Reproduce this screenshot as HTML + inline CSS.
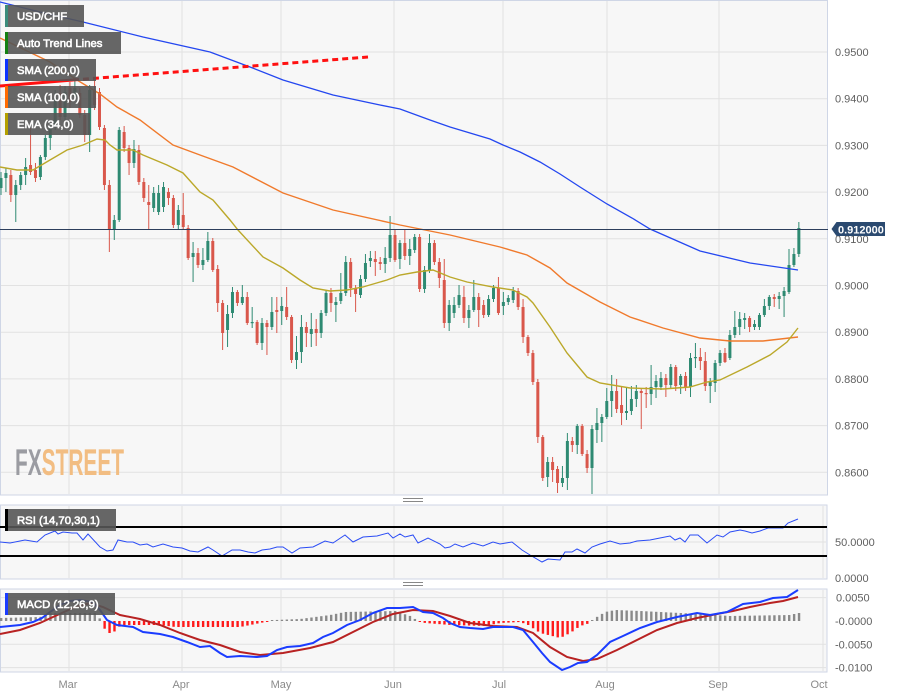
<!DOCTYPE html>
<html><head><meta charset="utf-8"><style>
html,body{margin:0;padding:0;background:#fff;}
svg{display:block;font-family:"Liberation Sans",Arial,sans-serif;}
</style></head><body>
<svg id="s" width="898" height="697" viewBox="0 0 898 697" xmlns="http://www.w3.org/2000/svg">
<defs>
<clipPath id="cm"><rect x="0" y="0" width="828" height="495"/></clipPath>
<clipPath id="cr"><rect x="0" y="505" width="827" height="74"/></clipPath>
<clipPath id="cd"><rect x="0" y="589" width="827" height="83"/></clipPath>
</defs>
<rect width="898" height="697" fill="#fff"/>
<!-- main panel -->
<rect x="0.5" y="0.5" width="827" height="494.5" fill="#f7f7f7" stroke="#cfd6e6"/>
<g stroke="#e2e2e2" stroke-width="1">
<line x1="1" x2="827" y1="52" y2="52"/><line x1="1" x2="827" y1="98.7" y2="98.7"/><line x1="1" x2="827" y1="145.4" y2="145.4"/><line x1="1" x2="827" y1="192.1" y2="192.1"/><line x1="1" x2="827" y1="238.8" y2="238.8"/><line x1="1" x2="827" y1="285.5" y2="285.5"/><line x1="1" x2="827" y1="332.2" y2="332.2"/><line x1="1" x2="827" y1="378.9" y2="378.9"/><line x1="1" x2="827" y1="425.6" y2="425.6"/><line x1="1" x2="827" y1="472.3" y2="472.3"/>
<line x1="69" x2="69" y1="1" y2="494"/><line x1="182" x2="182" y1="1" y2="494"/><line x1="281" x2="281" y1="1" y2="494"/><line x1="394" x2="394" y1="1" y2="494"/><line x1="503" x2="503" y1="1" y2="494"/><line x1="607" x2="607" y1="1" y2="494"/><line x1="719" x2="719" y1="1" y2="494"/>
</g>
<!-- FXSTREET logo -->
<text x="15" y="475" font-size="37" font-weight="bold" textLength="109" lengthAdjust="spacingAndGlyphs" font-family="'Liberation Sans Narrow','Liberation Sans',sans-serif"><tspan fill="#9b9ca2">FX</tspan><tspan fill="#f2bd82">STREET</tspan></text>
<g clip-path="url(#cm)">
<g id="candles"></g>
<polyline fill="none" stroke="#2447f0" stroke-width="1.3" points="0,2 40,12 83,22 143,37 210,52 250,67 283,80 333,95 380,105 400,109 430,120 450,127 490,139 503,145 520,152 540,162 560,174 580,187 607,204 632,218 650,229 700,251 750,263 798,270"/>
<polyline fill="none" stroke="#f07a2c" stroke-width="1.4" points="0,38 50,62 77,80 100,94 117,107 140,120 173,145 200,155 233,167 283,193 333,210 400,225 450,235 500,247 527,255 550,268 567,283 600,302 630,317 663,328 700,338 730,341 763,341 798,337"/>
<polyline fill="none" stroke="#bba82a" stroke-width="1.4" points="0,167 17,170 33,170 50,160 67,150 83,145 97,139 105,140 110,145 117,150 133,150 143,155 167,165 183,173 200,192 213,200 230,220 238,230 263,257 283,268 300,280 313,288 330,291 347,290 363,287 387,280 400,275 417,272 433,270 450,277 467,282 493,287 513,290 527,297 533,303 550,327 567,353 587,377 600,383 630,388 663,389 690,387 707,382 720,380 747,367 770,355 787,342 798,328"/>
<line x1="0" y1="86" x2="73" y2="80" stroke="#ff1010" stroke-width="3"/>
<line x1="73" y1="80" x2="368" y2="57" stroke="#ff1010" stroke-width="3" stroke-dasharray="6 4"/>
<line x1="0" x2="828" y1="229.5" y2="229.5" stroke="#2c3e5c" stroke-width="1"/>
</g>
<!-- legend -->
<g font-size="11.3" fill="#fff" stroke="#fff" stroke-width="0.6">
<rect x="5" y="5" width="79" height="22" fill="#555" opacity="0.9" stroke="none"/><rect x="5" y="5" width="3" height="22" fill="#3b8c7c" stroke="none"/><text x="17" y="20">USD/CHF</text>
<rect x="5" y="32" width="116" height="22" fill="#555" opacity="0.9" stroke="none"/><rect x="5" y="32" width="3" height="22" fill="#138013" stroke="none"/><text x="17" y="47">Auto Trend Lines</text>
<rect x="5" y="59" width="91" height="22" fill="#555" opacity="0.9" stroke="none"/><rect x="5" y="59" width="3" height="22" fill="#0a32ff" stroke="none"/><text x="17" y="74">SMA (200,0)</text>
<rect x="5" y="86" width="91" height="22" fill="#555" opacity="0.9" stroke="none"/><rect x="5" y="86" width="3" height="22" fill="#ff6a00" stroke="none"/><text x="17" y="101">SMA (100,0)</text>
<rect x="5" y="113" width="85" height="22" fill="#555" opacity="0.9" stroke="none"/><rect x="5" y="113" width="3" height="22" fill="#b4a000" stroke="none"/><text x="17" y="128">EMA (34,0)</text>
</g>
<!-- right axis -->
<g font-size="11" fill="#606060">
<text x="835" y="56">0.9500</text><text x="835" y="102.7">0.9400</text><text x="835" y="149.4">0.9300</text><text x="835" y="196.1">0.9200</text><text x="835" y="242.8">0.9100</text><text x="835" y="289.5">0.9000</text><text x="835" y="336.2">0.8900</text><text x="835" y="382.9">0.8800</text><text x="835" y="429.6">0.8700</text><text x="835" y="476.3">0.8600</text>
</g>
<polygon points="831.5,229 836.5,222 885,222 885,236 836.5,236" fill="#2b4a70"/>
<text x="838" y="233.5" font-size="11" font-weight="bold" fill="#fff">0.912000</text>
<!-- handles -->
<g stroke="#888" stroke-width="1"><line x1="403" x2="423" y1="498.5" y2="498.5"/><line x1="403" x2="423" y1="501.5" y2="501.5"/><line x1="403" x2="423" y1="582.5" y2="582.5"/><line x1="403" x2="423" y1="585.5" y2="585.5"/></g>
<!-- RSI panel -->
<rect x="0.5" y="505" width="826.5" height="74" fill="#f7f7f7" stroke="#cfd6e6"/>
<g stroke="#e2e2e2"><line x1="1" x2="826" y1="542" y2="542"/><line x1="69" x2="69" y1="506" y2="578"/><line x1="182" x2="182" y1="506" y2="578"/><line x1="281" x2="281" y1="506" y2="578"/><line x1="394" x2="394" y1="506" y2="578"/><line x1="503" x2="503" y1="506" y2="578"/><line x1="607" x2="607" y1="506" y2="578"/><line x1="719" x2="719" y1="506" y2="578"/><line x1="823" x2="823" y1="506" y2="578"/></g>
<g clip-path="url(#cr)">
<polyline fill="none" stroke="#2a4cf5" stroke-width="1" points="0,542 10,543 25,540 37,542 45,535 55,531 58,534 63,532 72,533 77,533 83,540 88,534 100,547 107,551 113,550 118,540 127,542 133,542 140,545 147,544 153,547 163,544 173,547 182,548 190,551 198,552 208,547 213,550 222,556 232,550 240,550 248,552 255,553 262,550 270,549 277,547 283,547 292,553 300,548 313,547 325,541 333,543 345,535 353,542 363,537 377,536 388,533 393,538 400,534 405,537 413,535 418,543 428,538 440,544 445,548 450,547 455,544 463,547 473,543 483,546 493,542 500,544 512,542 522,550 530,555 542,562 548,559 560,560 565,552 572,552 577,549 585,553 592,547 600,544 610,541 620,544 630,543 637,541 650,540 660,538 670,536 675,540 680,538 685,542 690,535 698,535 707,543 717,535 723,537 730,532 740,530 745,531 752,533 760,531 768,528 775,528 783,528 788,523 798,519"/>
<line x1="0" x2="827" y1="527" y2="527" stroke="#000" stroke-width="2"/>
<line x1="0" x2="827" y1="556" y2="556" stroke="#000" stroke-width="2"/>
</g>
<g font-size="11.3" fill="#fff" stroke="#fff" stroke-width="0.6">
<rect x="5" y="509" width="111" height="22" fill="#555" opacity="0.9" stroke="none"/><rect x="5" y="509" width="3" height="22" fill="#000" stroke="none"/><text x="17" y="524">RSI (14,70,30,1)</text>
</g>
<g font-size="11" fill="#606060"><text x="835" y="546">50.0000</text><text x="835" y="582">0.0000</text></g>
<!-- MACD panel -->
<rect x="0.5" y="589" width="826.5" height="83" fill="#f7f7f7" stroke="#cfd6e6"/>
<g stroke="#e2e2e2"><line x1="1" x2="826" y1="597.6" y2="597.6"/><line x1="1" x2="826" y1="644.3" y2="644.3"/><line x1="1" x2="826" y1="667.6" y2="667.6"/><line x1="69" x2="69" y1="590" y2="671"/><line x1="182" x2="182" y1="590" y2="671"/><line x1="281" x2="281" y1="590" y2="671"/><line x1="394" x2="394" y1="590" y2="671"/><line x1="503" x2="503" y1="590" y2="671"/><line x1="607" x2="607" y1="590" y2="671"/><line x1="719" x2="719" y1="590" y2="671"/><line x1="823" x2="823" y1="590" y2="671"/></g>
<g clip-path="url(#cd)">
<g id="hist"></g>
<polyline fill="none" stroke="#b82222" stroke-width="2" points="0,634 20,630 40,623 53,617 73,608 90,603 103,607 120,615 140,619 160,625 180,633 200,640 220,645 240,652 260,655 283,653 310,648 333,642 353,632 373,622 393,614 413,610 433,611 450,616 470,623 493,626 517,627 533,633 550,647 567,657 583,661 597,659 617,650 637,640 657,630 677,623 697,618 717,614 733,611 750,607 770,603 783,601 798,597"/>
<polyline fill="none" stroke="#1a3cff" stroke-width="2" points="0,627 20,625 33,622 42,618 50,612 60,605 70,601 80,600 93,602 100,610 107,620 117,625 133,627 143,632 160,634 173,637 187,642 200,647 210,646 220,653 227,657 240,656 257,657 267,656 277,650 287,647 300,646 313,643 323,637 333,633 347,625 360,620 373,613 387,608 400,608 413,607 423,612 433,613 443,618 450,623 460,627 470,628 483,629 493,627 513,627 523,630 533,642 542,653 550,662 562,670 570,667 578,663 587,662 597,655 610,642 623,636 640,628 657,622 677,617 697,613 710,615 727,612 743,604 760,602 773,598 787,597 798,590"/>
</g>
<g font-size="11.3" fill="#fff" stroke="#fff" stroke-width="0.6">
<rect x="5" y="593" width="110" height="22" fill="#555" opacity="0.9" stroke="none"/><rect x="5" y="593" width="3" height="22" fill="#1a3cff" stroke="none"/><text x="17" y="608">MACD (12,26,9)</text>
</g>
<g font-size="11" fill="#606060"><text x="836" y="601.6">0.0050</text><text x="835" y="625">-0.0000</text><text x="835" y="648.3">-0.0050</text><text x="835" y="671.6">-0.0100</text></g>
<!-- x axis -->
<g font-size="11" fill="#8a8a8a" text-anchor="middle">
<text x="68" y="688">Mar</text><text x="181" y="688">Apr</text><text x="281" y="688">May</text><text x="393" y="688">Jun</text><text x="499" y="688">Jul</text><text x="605" y="688">Aug</text><text x="718" y="688">Sep</text><text x="819" y="688">Oct</text>
</g>
</svg>
<script>
var D=[[188,178,172,195],[178,173,168,192],[175,195,170,202],[195,185,180,222],[185,175,172,190],[175,167,158,185],[165,172,128,175],[170,178,163,182],[177,157,155,180],[157,138,135,160],
[138,128,123,150],[127,98,90,130],[93,117,85,120],[117,92,86,120],[88,102,82,108],[97,88,78,100],[93,115,88,118],[115,135,110,142],[135,90,85,152],[90,105,80,110],
[92,127,88,130],[128,185,125,190],[185,230,180,252],[230,220,215,240],[220,130,127,222],[132,148,126,152],[148,163,145,175],[163,149,140,168],[150,182,145,185],[182,198,178,202],
[202,205,185,230],[208,193,187,212],[212,193,185,215],[207,187,182,212],[192,198,188,205],[198,225,195,228],[225,210,205,230],[215,227,193,230],[228,258,225,260],[257,253,242,282],
[253,265,248,268],[265,260,248,270],[260,241,232,262],[241,270,238,272],[269,303,265,312],[303,333,300,350],[330,314,305,347],[313,292,287,318],[292,303,290,306],[303,297,285,305],
[297,323,292,325],[322,322,307,328],[322,343,320,345],[343,323,318,350],[323,327,320,355],[327,312,297,330],[310,312,297,333],[311,306,297,325],[307,317,287,320],[317,360,315,363],
[360,352,336,369],[352,327,315,363],[327,333,322,347],[334,329,313,347],[329,333,319,346],[333,313,310,338],[313,293,290,316],[293,303,288,312],[305,302,297,322],[301,293,273,304],
[293,262,256,296],[262,288,258,297],[288,294,285,312],[295,279,275,298],[279,263,254,282],[261,258,251,267],[259,262,251,276],[262,264,257,270],[264,258,247,273],[258,235,216,262],
[235,260,230,262],[259,243,240,269],[243,256,230,260],[256,249,239,265],[250,237,234,253],[237,289,234,292],[289,270,266,293],[270,243,234,273],[243,262,240,265],[262,278,258,288],
[280,323,259,328],[323,305,300,331],[313,305,297,318],[305,295,285,308],[297,318,286,323],[318,310,305,328],[310,297,280,312],[297,310,293,327],[305,315,300,318],[315,299,295,317],
[299,288,285,302],[288,313,277,315],[306,302,292,315],[302,298,295,305],[300,291,287,303],[291,307,288,310],[307,337,299,343],[337,353,335,356],[353,382,350,385],[382,437,379,443],
[437,478,435,481],[477,462,457,487],[462,470,457,482],[469,483,466,493],[483,478,466,487],[478,441,433,490],[441,445,437,452],[445,426,424,454],[426,454,424,456],[454,468,450,473],
[468,429,425,494],[430,423,408,443],[423,417,414,442],[417,401,388,419],[401,391,375,417],[391,409,379,413],[405,413,387,425],[413,411,388,420],[411,399,386,415],[399,391,385,407],
[391,393,388,429],[393,394,387,408],[394,387,365,405],[387,381,375,398],[387,378,372,390],[378,385,374,397],[385,367,364,388],[367,386,365,391],[385,376,374,394],[376,387,372,391],
[387,358,353,397],[358,357,343,368],[357,361,348,370],[361,386,352,391],[386,382,378,403],[383,363,360,392],[363,353,350,366],[353,362,348,363],[358,335,330,360],[335,327,311,338],
[327,319,312,335],[320,318,313,329],[318,327,316,332],[327,324,320,330],[327,315,313,330],[315,306,299,317],[306,297,295,310],[297,299,294,307],[299,296,292,309],[296,291,287,317],
[292,265,249,294],[265,254,248,267],[254,228,222,257]];
var s='';
for(var i=0;i<D.length;i++){
 var d=D[i],x=1+i*4.925,o=d[0],c=d[1],h=d[2],l=d[3];
 var up=c<=o,col=up?'#2e8a72':'#d9574b';
 var t=Math.min(o,c),b=Math.max(o,c);
 s+='<line x1="'+x+'" x2="'+x+'" y1="'+h+'" y2="'+l+'" stroke="'+col+'" stroke-width="1"/>';
 s+='<rect x="'+(x-1.5)+'" y="'+t+'" width="3" height="'+Math.max(b-t,1.2)+'" fill="'+col+'"/>';
}
document.getElementById('candles').innerHTML=s;
var H=[[0,3],[40,4],[50,8],[95,8],[100,2],[103,-6],[108,-12],[113,-12],[118,-6],[125,-4],[160,-4],[175,-6],[240,-6],[265,-1],[275,1],[300,2],[330,6],[345,9],[395,10],[410,5],[418,0],[425,-2],[450,-4],[485,-5],[500,-2],[520,-1],[528,-4],[540,-12],[560,-17],[570,-12],[580,-5],[590,-2],[595,3],[605,9],[615,11],[640,10],[700,7],[730,5],[790,6],[798,8]];
function hv(x){for(var k=0;k<H.length-1;k++){if(x>=H[k][0]&&x<=H[k+1][0]){var f=(x-H[k][0])/(H[k+1][0]-H[k][0]);return H[k][1]+f*(H[k+1][1]-H[k][1]);}}return H[H.length-1][1];}
var hs='';
for(var i=0;i<D.length;i++){
 var x=1+i*4.925,v=hv(x),z=621;
 var col=v>=0?'#8a8a8a':'#ff1a1a';
 var hh=Math.max(Math.abs(v),1);
 var y=v>=0?z-hh:z;
 hs+='<rect x="'+(x-1)+'" y="'+y+'" width="2.4" height="'+hh+'" fill="'+col+'"/>';
}
document.getElementById('hist').innerHTML=hs;
</script>
</body></html>
